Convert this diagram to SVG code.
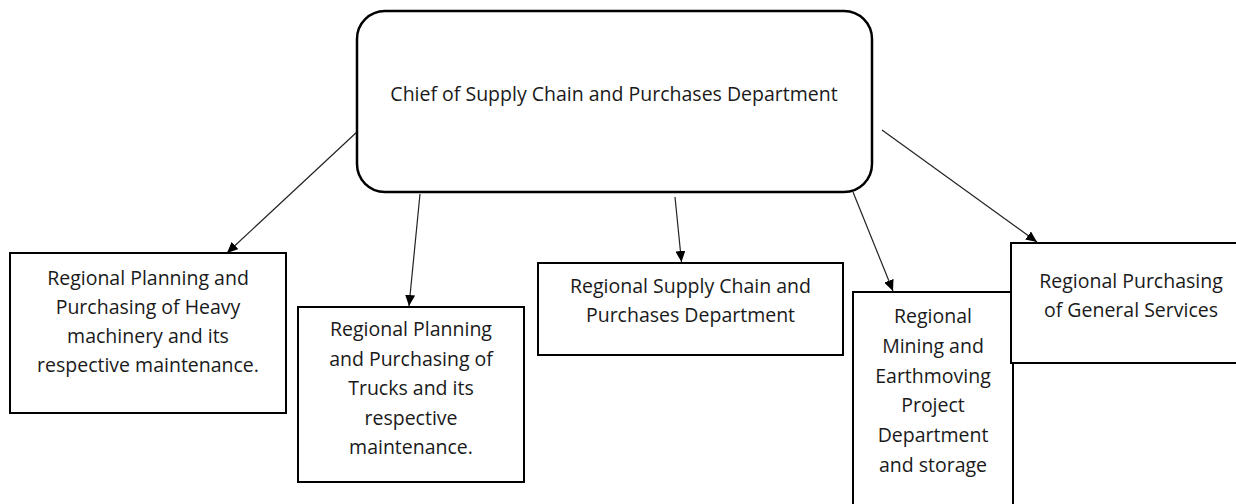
<svg xmlns="http://www.w3.org/2000/svg" width="1236" height="504" viewBox="0 0 1236 504">
  <style>
    .box { fill: #ffffff; stroke: #000000; stroke-width: 2; }
    .lbl { font-family: "Open Sans", "Noto Sans", "DejaVu Sans", sans-serif; font-size: 19.5px; fill: #1a1a1a; text-anchor: middle; }
    .conn { stroke: #222222; stroke-width: 1.2; fill: none; marker-end: url(#arrow); }
  </style>
  <defs>
    <marker id="arrow" markerUnits="userSpaceOnUse" markerWidth="12" markerHeight="10" refX="11" refY="5" orient="auto">
      <path d="M0,0 L11,5 L0,10 Z" fill="#000000"/>
    </marker>
  </defs>
  <rect width="1236" height="504" fill="#ffffff"/>

  <g id="connectors">
    <line class="conn" x1="358" y1="131" x2="227" y2="253"/>
    <line class="conn" x1="420" y1="194" x2="409" y2="306"/>
    <line class="conn" x1="675" y1="197" x2="681.5" y2="262"/>
    <line class="conn" x1="853" y1="192" x2="893" y2="291"/>
    <line class="conn" x1="882" y1="130" x2="1037" y2="242"/>
  </g>

  <g id="chief">
    <rect class="box" x="357" y="11" width="515" height="181" rx="28" ry="28" style="stroke-width:2.5"/>
    <text class="lbl" x="614" y="101">Chief of Supply Chain and Purchases Department</text>
  </g>

  <g id="heavy-machinery">
    <rect class="box" x="10" y="253" width="276" height="160"/>
    <text class="lbl" x="148" y="285">Regional Planning and</text>
    <text class="lbl" x="148" y="314">Purchasing of Heavy</text>
    <text class="lbl" x="148" y="343">machinery and its</text>
    <text class="lbl" x="148" y="372">respective maintenance.</text>
  </g>

  <g id="trucks">
    <rect class="box" x="298" y="307" width="226" height="175"/>
    <text class="lbl" x="411" y="336">Regional Planning</text>
    <text class="lbl" x="411" y="365.5">and Purchasing of</text>
    <text class="lbl" x="411" y="395">Trucks and its</text>
    <text class="lbl" x="411" y="424.5">respective</text>
    <text class="lbl" x="411" y="454">maintenance.</text>
  </g>

  <g id="supply-chain">
    <rect class="box" x="538" y="263" width="305" height="92"/>
    <text class="lbl" x="690.5" y="293">Regional Supply Chain and</text>
    <text class="lbl" x="690.5" y="322">Purchases Department</text>
  </g>

  <g id="mining">
    <rect class="box" x="853" y="292" width="160" height="230"/>
    <text class="lbl" x="933" y="323">Regional</text>
    <text class="lbl" x="933" y="353">Mining and</text>
    <text class="lbl" x="933" y="383">Earthmoving</text>
    <text class="lbl" x="933" y="412">Project</text>
    <text class="lbl" x="933" y="442">Department</text>
    <text class="lbl" x="933" y="472">and storage</text>
  </g>

  <g id="general-services">
    <rect class="box" x="1011" y="243" width="240" height="120"/>
    <text class="lbl" x="1131" y="288">Regional Purchasing</text>
    <text class="lbl" x="1131" y="317">of General Services</text>
  </g>
</svg>
